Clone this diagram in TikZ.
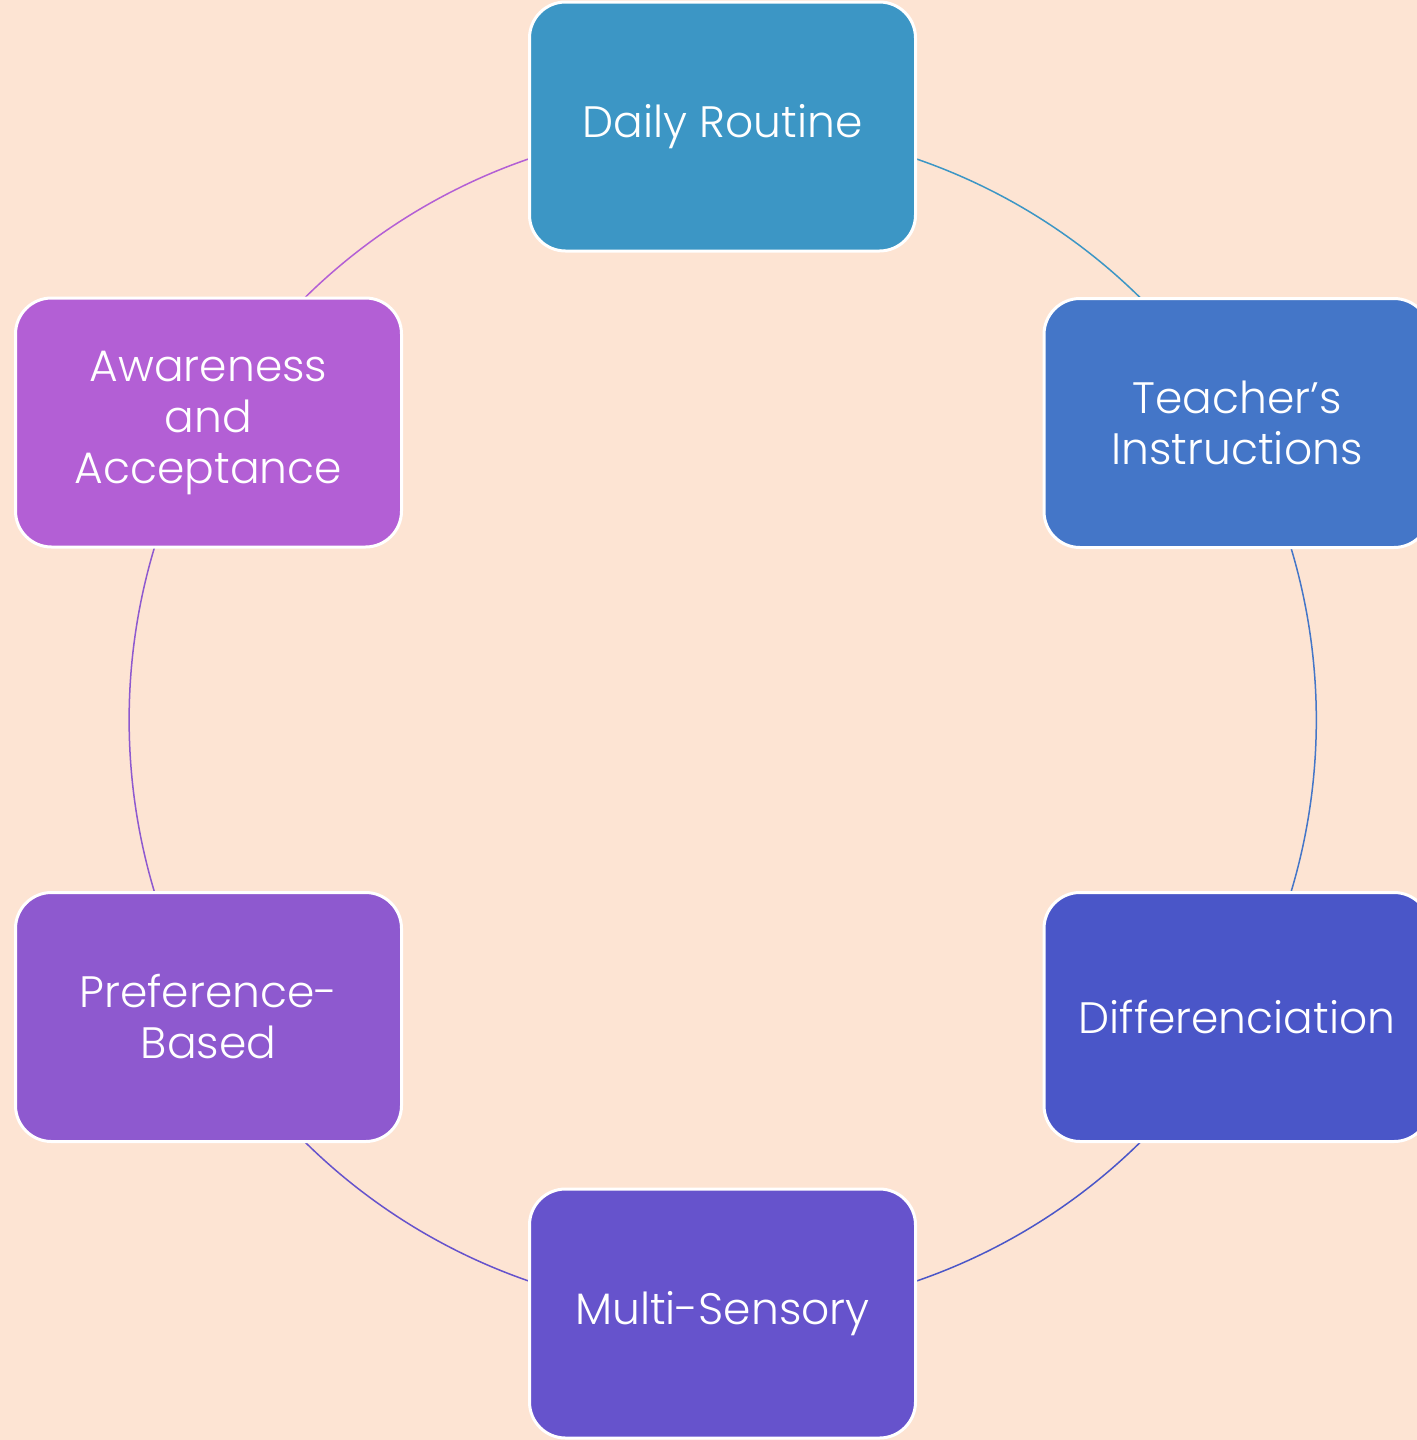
\documentclass[tikz,border=0pt]{standalone}
\usepackage{fontspec}
\setmainfont{Poppins}[UprightFont=* Light]
\usetikzlibrary{backgrounds}
\definecolor{bg}{HTML}{FDE4D3}
\definecolor{cA}{HTML}{3C96C5}
\definecolor{cB}{HTML}{4476C8}
\definecolor{cC}{HTML}{4A56C8}
\definecolor{cD}{HTML}{6653CC}
\definecolor{cE}{HTML}{8E59CF}
\definecolor{cF}{HTML}{B35FD5}
\begin{document}
\begin{tikzpicture}[x=0.5pt,y=0.5pt,
  box/.style={rounded corners=18pt, draw=white, line width=1.5pt,
    minimum width=193pt, minimum height=124.5pt, text=white, align=center,
    font=\fontsize{22}{25.5}\selectfont, inner sep=0pt},
  link/.style={line width=0.75pt, looseness=0.913}]
\useasboundingbox (0,0) rectangle (1417,-1440);
\node[box, fill=cA] (dr) at (722.5,-126.5) {Daily Routine};
\node[box, fill=cB] (ti) at (1237,-423) {Teacher’s\\Instructions};
\node[box, fill=cC] (df) at (1237,-1017) {Differenciation};
\node[box, fill=cD] (ms) at (722.5,-1313.5) {Multi-Sensory};
\node[box, fill=cE] (pb) at (208.5,-1017) {Preference-\\Based};
\node[box, fill=cF] (aa) at (208.5,-422.5) {Awareness\\and\\Acceptance};
\begin{scope}[on background layer]
  \fill[bg] (0,0) rectangle (1417,-1440);
  \draw[link, cA] (dr.center) to[out=0, in=120] (ti.center);
  \draw[link, cB] (ti.center) to[out=-60, in=60] (df.center);
  \draw[link, cC] (df.center) to[out=-120, in=0] (ms.center);
  \draw[link, cD] (ms.center) to[out=180, in=-60] (pb.center);
  \draw[link, cE] (pb.center) to[out=120, in=-120] (aa.center);
  \draw[link, cF] (aa.center) to[out=60, in=180] (dr.center);
\end{scope}
\end{tikzpicture}
\end{document}
